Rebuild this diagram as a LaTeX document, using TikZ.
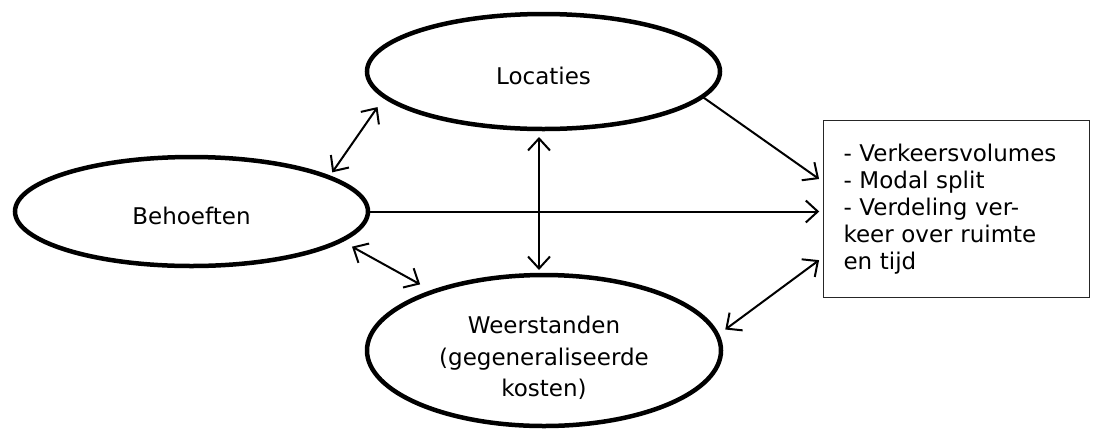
\documentclass[tikz,border=0pt]{standalone}
\usepackage{fontspec}
\setmainfont{DejaVu Sans}
\usetikzlibrary{arrows.meta, positioning, shapes.geometric}

\begin{document}
\begin{tikzpicture}[x=1pt, y=-1pt,
    factor/.style={draw, ellipse, line width=4.5pt, inner sep=0pt, outer sep=0pt, align=center, font=\fontsize{23}{31.5}\selectfont},
    resultbox/.style={draw, black!85, line width=1.5pt, text=black, minimum width=266pt, minimum height=177pt, inner xsep=20pt, text width=226pt, align=left, font=\fontsize{23}{27}\selectfont},
    link/.style={line width=2pt, -{Straight Barb[length=12pt, width=22pt]}},
    dlink/.style={line width=2pt, {Straight Barb[length=12pt, width=22pt]}-{Straight Barb[length=12pt, width=22pt]}}
]
\useasboundingbox (0,0) rectangle (1097,432);

% Three factors
\node[factor, minimum width=353pt, minimum height=115pt, text height=25.5pt] (loc) at (543.5,71.5) {Locaties};
\node[factor, minimum width=353pt, minimum height=109pt, text height=25.5pt] (beh) at (191.5,211.5) {Behoeften};
\node[factor, minimum width=354pt, minimum height=151pt, text height=96pt] (wst) at (544,350.5) {Weerstanden\\(gegeneraliseerde\\kosten)};

% Outcome box
\node[resultbox] (res) at (956.5,209) {- Verkeersvolumes\\- Modal split\\- Verdeling ver-\\keer over ruimte\\en tijd};

% Mutual relations
\draw[dlink, shorten <=6pt, shorten >=12.7pt] (beh.14.4) -- (loc.189.5);
\draw[dlink, shorten <=12.7pt, shorten >=15pt] (beh.-11.8) -- (wst.152.6);
\draw[dlink, shorten <=8pt, shorten >=5pt] ([xshift=-4.5pt]loc.south) -- ([xshift=-5pt]wst.north);

% Effects on the outcome
\draw[link, shorten >=3.5pt] (beh.east) -- (beh.east -| res.west);
\draw[link, shorten >=4.5pt] (loc.-9.3) -- ([yshift=27.4pt]res.west);
\draw[dlink, shorten <=9.8pt, shorten >=4.6pt] (wst.5.9) -- ([yshift=-48.4pt]res.west);
\end{tikzpicture}
\end{document}
